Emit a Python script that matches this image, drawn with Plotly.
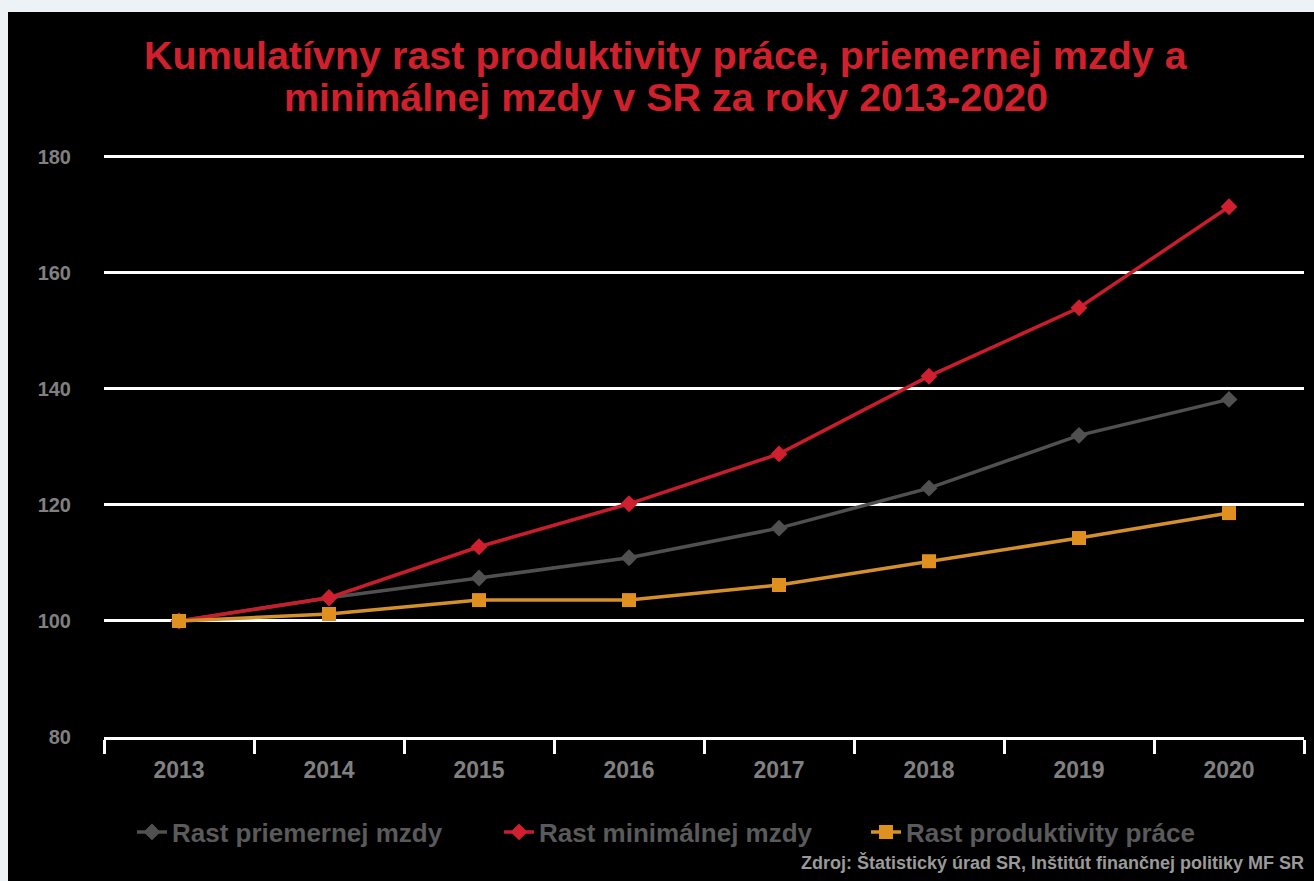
import plotly.graph_objects as go

years = ["2013", "2014", "2015", "2016", "2017", "2018", "2019", "2020"]
avg_wage = [100, 104.0, 107.4, 110.9, 116.0, 122.9, 132.0, 138.2]
min_wage = [100, 104.0, 112.8, 120.2, 128.8, 142.2, 154.0, 171.4]
productivity = [100, 101.2, 103.6, 103.6, 106.2, 110.3, 114.3, 118.6]
y_ticks = [80, 100, 120, 140, 160, 180]

title_line1 = "Kumulatívny rast produktivity práce, priemernej mzdy a"
title_line2 = "minimálnej mzdy v SR za roky 2013-2020"
source_text = "Zdroj: Štatistický úrad SR, Inštitút finančnej politiky MF SR"

FONT = "Liberation Sans, Arial, sans-serif"
L, R, T, B = 104, 10, 154, 144
W, H = 1314, 881
PW, PH = W - L - R, H - T - B


def px_x(px):
    return (px - L) / PW


def px_y(py):
    return (H - B - py) / PH


fig = go.Figure()
fig.add_trace(go.Scatter(
    x=years, y=avg_wage, name="Rast priemernej mzdy", mode="lines+markers",
    line=dict(color="#505050", width=3.5),
    marker=dict(symbol="diamond", size=13, color="#505050"),
))
fig.add_trace(go.Scatter(
    x=years, y=min_wage, name="Rast minimálnej mzdy", mode="lines+markers",
    line=dict(color="#c81d2b", width=3.5),
    marker=dict(symbol="diamond", size=13, color="#d01f2e"),
))
fig.add_trace(go.Scatter(
    x=years, y=productivity, name="Rast produktivity práce", mode="lines+markers",
    line=dict(color="#d4902c", width=3.5),
    marker=dict(symbol="square", size=14, color="#e0901f"),
))

fig.add_shape(type="rect", xref="paper", yref="paper",
              x0=px_x(8), x1=px_x(1330), y0=px_y(900), y1=px_y(12),
              fillcolor="#000000", line=dict(width=0), layer="below")

for txt, yc in [(title_line1, 55), (title_line2, 97)]:
    fig.add_annotation(text=txt, xref="paper", yref="paper",
                       x=px_x(666), y=px_y(yc), xanchor="center", yanchor="middle",
                       showarrow=False, align="center",
                       font=dict(family=FONT, size=39.5, color="#d0202c", weight="bold"))

fig.add_annotation(text=source_text, xref="paper", yref="paper",
                   x=px_x(1306), y=px_y(862), xanchor="right", yanchor="middle",
                   showarrow=False,
                   font=dict(family=FONT, size=18, color="#9a9a9a", weight="bold"))

fig.update_layout(
    width=W, height=H,
    margin=dict(l=L, r=R, t=T, b=B),
    paper_bgcolor="#edf2f6",
    plot_bgcolor="#000000",
    showlegend=True,
    legend=dict(orientation="h", x=px_x(132), y=px_y(832), xanchor="left", yanchor="middle",
                bgcolor="rgba(0,0,0,0)", entrywidth=322, entrywidthmode="pixels",
                font=dict(family=FONT, size=26, color="#5a5a5a", weight="bold")),
    xaxis=dict(type="category", range=[-0.5, 7.5], tickson="boundaries", ticks="outside",
               ticklen=14, tickwidth=3, tickcolor="#ffffff", showline=True,
               linecolor="#ffffff", linewidth=3, showgrid=False, ticklabelstandoff=10,
               tickfont=dict(family=FONT, size=23, color="#808080", weight="bold")),
    yaxis=dict(range=[80, 180.5], tickvals=y_ticks, showgrid=True, gridcolor="#ffffff",
               gridwidth=3, zeroline=False, showline=False, ticks="",
               ticklabelstandoff=32,
               tickfont=dict(family=FONT, size=20, color="#808080", weight="bold")),
)

fig.write_html("out.html", config={"displayModeBar": False},
               post_script="document.body.style.margin='0';")
